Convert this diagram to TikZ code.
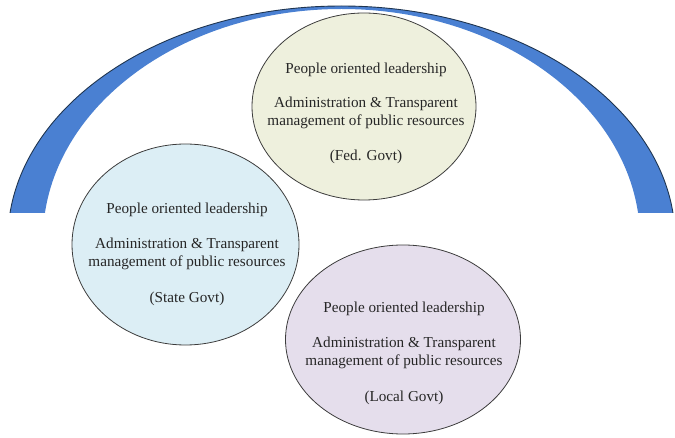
\documentclass[tikz,border=0pt]{standalone}
\usepackage{fontspec}
\setmainfont{Liberation Serif}
\usetikzlibrary{shapes.geometric}
\definecolor{arcblue}{HTML}{4A80D2}
\definecolor{arcedge}{HTML}{1F3550}
\definecolor{fedfill}{HTML}{EEF0DD}
\definecolor{statefill}{HTML}{DCEEF5}
\definecolor{localfill}{HTML}{E5DEEC}
\definecolor{inkgray}{HTML}{262626}
\begin{document}
\begin{tikzpicture}[x=1pt,y=1pt,
  tier/.style={ellipse, draw=inkgray!90, line width=0.8pt, inner sep=0pt},
  tiertext/.style={align=center, text=inkgray,
    font=\fontsize{15.2}{18}\selectfont}]
\useasboundingbox (0,0) rectangle (675,437);
% canopy crescent: outer ellipse minus inner ellipse, cut flat at the base
\coordinate (canopy) at (341.5,197);
\begin{scope}
  \clip (0,224) rectangle (675,437);
  \fill[arcblue, even odd rule]
    (canopy) ellipse[x radius=333.7, y radius=234]
    (canopy) ellipse[x radius=298.6, y radius=231];
  \draw[arcedge, line width=0.9pt] (canopy) ellipse[x radius=333.7, y radius=234];
\end{scope}
% government tiers
\node[tier, fill=fedfill, minimum width=224pt, minimum height=187pt] (fed) at (364,330.5) {};
\node[tier, fill=statefill, minimum width=227pt, minimum height=201pt] (state) at (185.5,192.5) {};
\node[tier, fill=localfill, minimum width=235pt, minimum height=189pt] (local) at (403,97.5) {};
\node[tiertext] (fedtxt) at ([xshift=2pt,yshift=-7pt]fed.center)
  {People oriented leadership\\[16pt]Administration \& Transparent\\management of public resources\\[17pt](Fed. Govt)};
\node[tiertext] (statetxt) at ([xshift=1.5pt,yshift=-10pt]state.center)
  {People oriented leadership\\[17pt]Administration \& Transparent\\management of public resources\\[18pt](State Govt)};
\node[tiertext] (localtxt) at ([xshift=1pt,yshift=-14pt]local.center)
  {People oriented leadership\\[17pt]Administration \& Transparent\\management of public resources\\[18pt](Local Govt)};
\end{tikzpicture}
\end{document}
